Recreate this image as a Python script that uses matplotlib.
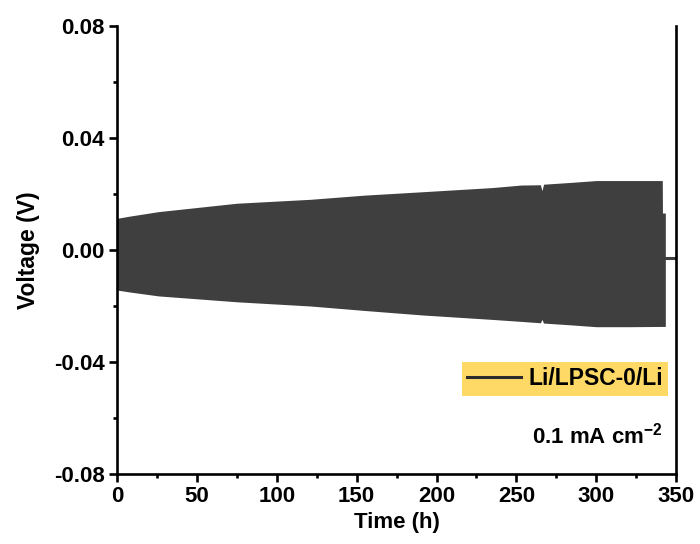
"""Li/LPSC-0/Li symmetric cell voltage profile."""

import matplotlib
matplotlib.use("Agg")
import matplotlib.pyplot as plt
from matplotlib.lines import Line2D
from matplotlib.ticker import MultipleLocator

plt.rcParams["font.family"] = ["Liberation Sans", "DejaVu Sans"]
plt.rcParams["font.weight"] = "bold"
plt.rcParams["mathtext.fontset"] = "custom"
plt.rcParams["mathtext.rm"] = "Liberation Sans:bold"
plt.rcParams["mathtext.bf"] = "Liberation Sans:bold"

# envelope of the densely cycling voltage trace
time_h = [0, 8, 26, 75, 121, 155, 191, 235, 253, 265, 266, 267, 283, 300, 320, 341.3, 341.4, 343.2]
upper_v = [0.0113, 0.0121, 0.0137, 0.0167, 0.0181, 0.0196, 0.0208, 0.0223, 0.0232, 0.0233, 0.0212, 0.0235,
           0.0241, 0.0248, 0.0248, 0.0248, 0.0132, 0.0132]
lower_v = [-0.0143, -0.0150, -0.0164, -0.0185, -0.0200, -0.0216, -0.0232, -0.0248, -0.0255, -0.0260, -0.0248,
           -0.0261, -0.0267, -0.0274, -0.0274, -0.0273, -0.0273, -0.0273]

# trace after the cell stops cycling
tail_time = [343.2, 350]
tail_v = [-0.0029, -0.0029]

series_label = "Li/LPSC-0/Li"
current_label = r"0.1 mA cm$^{-2}$"

trace_color = "#3f3f3f"
legend_color = "#ffd966"

fig = plt.figure(figsize=(7, 5.44), dpi=100)
ax = fig.add_axes([0.167, 0.1287, 0.799, 0.8235])

ax.fill_between(time_h, lower_v, upper_v, color=trace_color, linewidth=0)
ax.plot(tail_time, tail_v, color=trace_color, linewidth=2.2)

ax.set_xlim(0, 350)
ax.set_ylim(-0.08, 0.08)
ax.xaxis.set_major_locator(MultipleLocator(50))
ax.xaxis.set_minor_locator(MultipleLocator(25))
ax.yaxis.set_major_locator(MultipleLocator(0.04))
ax.yaxis.set_minor_locator(MultipleLocator(0.02))
ax.yaxis.set_major_formatter(lambda v, pos: f"{v:.2f}")

ax.spines["top"].set_visible(False)
for side in ["left", "bottom", "right"]:
    ax.spines[side].set_linewidth(1.9)

ax.tick_params(which="major", direction="out", length=6, width=1.9, labelsize=16, pad=3)
ax.tick_params(which="minor", direction="out", length=3, width=1.9)
ax.tick_params(right=False, top=False, which="both")

ax.set_xlabel("Time (h)", fontsize=16, fontweight="bold", labelpad=3)
ax.set_ylabel("Voltage (V)", fontsize=16.5, fontweight="bold", labelpad=10)

handle = Line2D([], [], color="#2b2b2b", linewidth=2.2)
leg = ax.legend([handle], [series_label], loc="upper right", bbox_to_anchor=(0.986, 0.251),
                borderaxespad=0, frameon=True, fancybox=False, facecolor=legend_color,
                edgecolor="none", framealpha=1, handlelength=2.35, handletextpad=0.3,
                borderpad=0.25, prop={"size": 16.5, "weight": "bold"})

ax.text(0.975, 0.069, current_label, transform=ax.transAxes, ha="right", va="baseline",
        fontsize=16, fontweight="bold")

fig.savefig("out.png", dpi=100)
